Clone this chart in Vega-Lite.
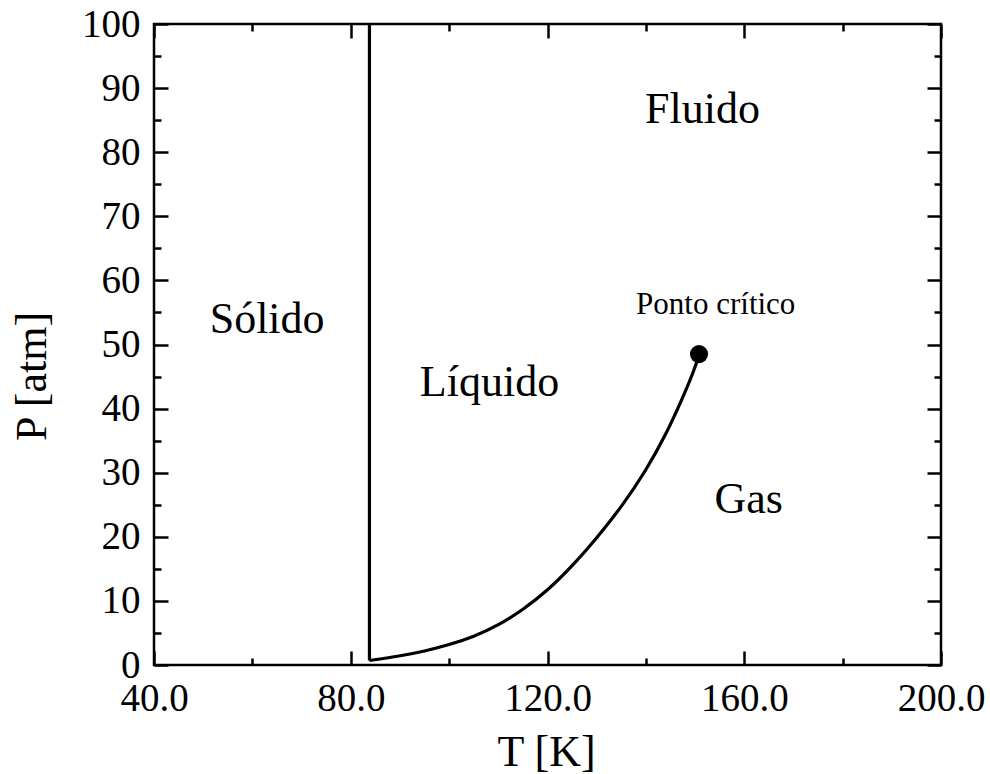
{
  "$schema": "https://vega.github.io/schema/vega-lite/v6.json",
  "width": 787,
  "height": 641,
  "autosize": {"type": "none"},
  "padding": {"left": 154, "top": 24, "right": 49, "bottom": 109},
  "background": "white",
  "config": {
    "view": {"stroke": "black", "strokeWidth": 2.5},
    "font": "Liberation Serif",
    "axis": {"grid": false, "domain": false, "labelFont": "Liberation Serif", "titleFont": "Liberation Serif", "labelColor": "black", "titleColor": "black", "tickColor": "black", "tickWidth": 2.5, "labelOverlap": false, "labelFlush": false, "labelBound": false, "titleFontWeight": "normal"}
  },
  "datasets": {
    "melt": [{"T": 83.8, "P": 0.7}, {"T": 83.8, "P": 100}],
    "vapor": [
      {"T": 83.8, "P": 0.7}, {"T": 90.0, "P": 1.4}, {"T": 95.0, "P": 2.15}, {"T": 100.0, "P": 3.15},
      {"T": 105.0, "P": 4.4}, {"T": 110.0, "P": 6.2}, {"T": 115.0, "P": 8.6}, {"T": 120.0, "P": 11.6},
      {"T": 125.0, "P": 15.4}, {"T": 130.0, "P": 19.8}, {"T": 135.0, "P": 24.6}, {"T": 140.0, "P": 30.3},
      {"T": 144.0, "P": 35.8}, {"T": 147.5, "P": 41.7}, {"T": 150.0, "P": 46.3}, {"T": 150.8, "P": 48.5}
    ],
    "critical": [{"T": 150.8, "P": 48.5}],
    "regions": [
      {"T": 63.0, "P": 51.8, "label": "Sólido"},
      {"T": 108.2, "P": 42.0, "label": "Líquido"},
      {"T": 151.5, "P": 84.5, "label": "Fluido"},
      {"T": 160.9, "P": 23.7, "label": "Gas"}
    ],
    "critlabel": [{"T": 154.2, "P": 54.7, "label": "Ponto crítico"}]
  },
  "resolve": {"axis": {"x": "independent", "y": "independent"}},
  "layer": [
    {
      "data": {"name": "melt"},
      "mark": {"type": "line", "color": "black", "strokeWidth": 3.2, "clip": true},
      "encoding": {
        "x": {"field": "T", "type": "quantitative", "scale": {"domain": [40, 200], "nice": false, "zero": false},
          "axis": {"orient": "bottom", "values": [40, 80, 120, 160, 200], "format": ".1f", "ticks": false, "labelFontSize": 39, "labelPadding": 14,
            "title": "T [K]", "titleFontSize": 44, "titleX": 392, "titleY": 100, "titleBaseline": "alphabetic", "titleAlign": "center", "titleAnchor": null}},
        "y": {"field": "P", "type": "quantitative", "scale": {"domain": [0, 100], "nice": false, "zero": false},
          "axis": {"orient": "left", "values": [0, 10, 20, 30, 40, 50, 60, 70, 80, 90, 100], "format": "d", "ticks": false, "labelFontSize": 39, "labelPadding": 14,
            "title": "P [atm]", "titleFontSize": 44, "titleX": -109, "titleY": 352, "titleAngle": -90, "titleBaseline": "alphabetic", "titleAlign": "center", "titleAnchor": null}}
      }
    },
    {
      "data": {"name": "vapor"},
      "mark": {"type": "line", "color": "black", "strokeWidth": 3.2, "interpolate": "basis", "clip": true},
      "encoding": {
        "x": {"field": "T", "type": "quantitative", "scale": {"domain": [40, 200], "nice": false, "zero": false},
          "axis": {"orient": "bottom", "values": [40, 80, 120, 160, 200], "labels": false, "tickSize": -14, "title": null}},
        "y": {"field": "P", "type": "quantitative", "scale": {"domain": [0, 100], "nice": false, "zero": false},
          "axis": {"orient": "left", "values": [0, 10, 20, 30, 40, 50, 60, 70, 80, 90, 100], "labels": false, "tickSize": -14, "title": null}}
      }
    },
    {
      "data": {"name": "critical"},
      "mark": {"type": "point", "filled": true, "color": "black", "opacity": 1, "size": 330, "shape": "circle"},
      "encoding": {
        "x": {"field": "T", "type": "quantitative", "scale": {"domain": [40, 200], "nice": false, "zero": false},
          "axis": {"orient": "bottom", "values": [60, 100, 140, 180], "labels": false, "tickSize": -7, "title": null}},
        "y": {"field": "P", "type": "quantitative", "scale": {"domain": [0, 100], "nice": false, "zero": false},
          "axis": {"orient": "left", "values": [5, 15, 25, 35, 45, 55, 65, 75, 85, 95], "labels": false, "tickSize": -7, "title": null}}
      }
    },
    {
      "data": {"name": "regions"},
      "mark": {"type": "text", "font": "Liberation Serif", "fontSize": 44, "align": "center", "baseline": "alphabetic", "color": "black"},
      "encoding": {
        "x": {"field": "T", "type": "quantitative", "scale": {"domain": [40, 200], "nice": false, "zero": false},
          "axis": {"orient": "top", "values": [40, 80, 120, 160, 200], "labels": false, "tickSize": -14, "title": null}},
        "y": {"field": "P", "type": "quantitative", "scale": {"domain": [0, 100], "nice": false, "zero": false},
          "axis": {"orient": "right", "values": [0, 10, 20, 30, 40, 50, 60, 70, 80, 90, 100], "labels": false, "tickSize": -14, "title": null}},
        "text": {"field": "label", "type": "nominal"}
      }
    },
    {
      "data": {"name": "critlabel"},
      "mark": {"type": "text", "font": "Liberation Serif", "fontSize": 31, "align": "center", "baseline": "alphabetic", "color": "black"},
      "encoding": {
        "x": {"field": "T", "type": "quantitative", "scale": {"domain": [40, 200], "nice": false, "zero": false},
          "axis": {"orient": "top", "values": [60, 100, 140, 180], "labels": false, "tickSize": -7, "title": null}},
        "y": {"field": "P", "type": "quantitative", "scale": {"domain": [0, 100], "nice": false, "zero": false},
          "axis": {"orient": "right", "values": [5, 15, 25, 35, 45, 55, 65, 75, 85, 95], "labels": false, "tickSize": -7, "title": null}},
        "text": {"field": "label", "type": "nominal"}
      }
    }
  ]
}
